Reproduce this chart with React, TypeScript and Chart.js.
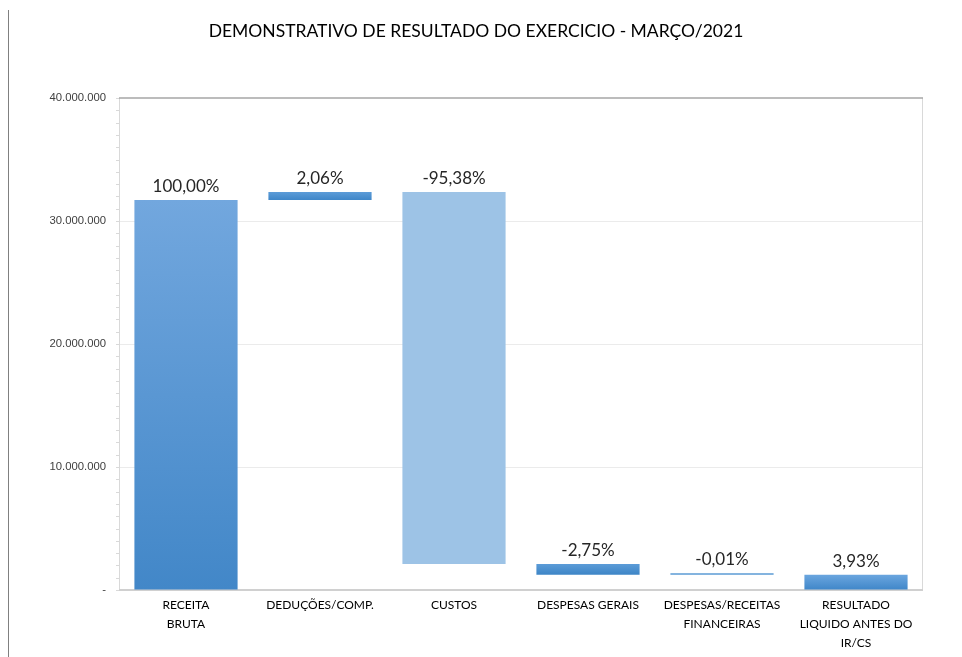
import React, { useEffect, useRef } from "react";
import { Chart, registerables } from "chart.js";

Chart.register(...registerables);

const TITLE = "DEMONSTRATIVO DE RESULTADO DO EXERCICIO - MARÇO/2021";
const categories: (string | string[])[] = [
  ["RECEITA", "BRUTA"],
  "DEDUÇÕES/COMP.",
  "CUSTOS",
  "DESPESAS GERAIS",
  ["DESPESAS/RECEITAS", "FINANCEIRAS"],
  ["RESULTADO", "LIQUIDO ANTES DO", "IR/CS"],
];
// floating bar ranges [start, end]
const barStart = [0, 31700000, 32353000, 2118000, 1246000, 0];
const barEnd = [31700000, 32353000, 2118000, 1246000, 1243000, 1243000];
const percentLabels = ["100,00%", "2,06%", "-95,38%", "-2,75%", "-0,01%", "3,93%"];
const topColors = ["#72a7de", "#5c9cd8", "#9dc3e6", "#5c9cd8", "#5b9bd5", "#6ba6df"];
const bottomColors = ["#4287c8", "#3f86c8", "#9dc3e6", "#3d85c6", "#5b9bd5", "#3f86c8"];
const yTicks = [0, 10000000, 20000000, 30000000, 40000000];

function fmt(v: number): string {
  if (v === 0) return "-";
  return Math.round(v)
    .toString()
    .replace(/\B(?=(\d{3})+(?!\d))/g, ".");
}

export default function App() {
  const ref = useRef<HTMLCanvasElement | null>(null);
  useEffect(() => {
    if (!ref.current) return;
    const decor = {
      id: "decor",
      beforeDatasetsDraw(chart: any) {
        const { ctx, chartArea: a, scales } = chart;
        const y = scales.y;
        ctx.save();
        // title
        ctx.font = "17.5px Lato";
        ctx.fillStyle = "#000000";
        ctx.textAlign = "center";
        ctx.textBaseline = "middle";
        ctx.fillText(TITLE, 476, 31);
        // minor ticks
        ctx.strokeStyle = "#d9d9d9";
        ctx.lineWidth = 1;
        for (let v = 0; v <= 40000000; v += 1000000) {
          const py = Math.round(y.getPixelForValue(v)) + 0.5;
          ctx.beginPath();
          ctx.moveTo(a.left - 3, py);
          ctx.lineTo(a.left, py);
          ctx.stroke();
        }
        // plot borders
        ctx.strokeStyle = "#d9d9d9";
        ctx.beginPath();
        ctx.moveTo(a.left + 0.5, a.top);
        ctx.lineTo(a.left + 0.5, a.bottom);
        ctx.moveTo(a.right - 0.5, a.top);
        ctx.lineTo(a.right - 0.5, a.bottom);
        ctx.stroke();
        ctx.strokeStyle = "#d0d0d0";
        ctx.lineWidth = 2;
        ctx.beginPath();
        ctx.moveTo(a.left, a.bottom);
        ctx.lineTo(a.right, a.bottom);
        ctx.stroke();
        ctx.strokeStyle = "#a6a6a6";
        ctx.lineWidth = 1.5;
        ctx.beginPath();
        ctx.moveTo(a.left, a.top);
        ctx.lineTo(a.right, a.top);
        ctx.stroke();
        // frame line on the left
        ctx.fillStyle = "#808080";
        ctx.fillRect(8, 10, 1, chart.height - 10);
        ctx.restore();
      },
      afterDatasetsDraw(chart: any) {
        const { ctx } = chart;
        const meta = chart.getDatasetMeta(0);
        ctx.save();
        ctx.font = "17px Lato";
        ctx.fillStyle = "#262626";
        ctx.textAlign = "center";
        ctx.textBaseline = "alphabetic";
        meta.data.forEach((el: any, i: number) => {
          const top = Math.min(el.y, el.base);
          ctx.fillText(percentLabels[i], el.x, top - 8);
        });
        ctx.restore();
      },
    };
    const chart = new Chart(ref.current, {
      type: "bar",
      data: {
        labels: categories,
        datasets: [
          {
            data: barStart.map((s, i) => [s, barEnd[i]]) as any,
            backgroundColor: (c: any) => {
              const i = c.dataIndex;
              if (i === undefined) return topColors[0];
              const chart = c.chart;
              const y = chart.scales.y;
              const raw = c.raw as number[];
              if (!y || !raw || !chart.chartArea) return topColors[i];
              const y0 = y.getPixelForValue(Math.max(raw[0], raw[1]));
              const y1 = y.getPixelForValue(Math.min(raw[0], raw[1]));
              if (!isFinite(y0) || !isFinite(y1) || y1 - y0 < 1) return topColors[i];
              const g = chart.ctx.createLinearGradient(0, y0, 0, y1);
              g.addColorStop(0, topColors[i]);
              g.addColorStop(1, bottomColors[i]);
              return g;
            },
            borderWidth: 0,
            barPercentage: 0.77,
            categoryPercentage: 1,
            minBarLength: 1.5,
          },
        ],
      },
      options: {
        responsive: false,
        animation: false,
        layout: { padding: { left: 0, right: 39, top: 98, bottom: 0 } },
        plugins: {
          legend: { display: false },
          tooltip: { enabled: false },
          title: { display: false },
        },
        scales: {
          x: {
            grid: { display: false, drawTicks: false },
            border: { display: false },
            ticks: {
              color: "#000000",
              font: { family: "Lato", size: 12, lineHeight: "19px" as any },
              padding: 5.5,
              maxRotation: 0,
              autoSkip: false,
            },
            afterFit: (s: any) => {
              s.height = 67;
            },
          },
          y: {
            min: 0,
            max: 40000000,
            afterBuildTicks: (s: any) => {
              s.ticks = yTicks.map((v) => ({ value: v }));
            },
            grid: {
              drawTicks: false,
              color: (c: any) =>
                c.tick && (c.tick.value === 0 || c.tick.value === 40000000)
                  ? "rgba(0,0,0,0)"
                  : "#ebebeb",
            },
            border: { display: false },
            ticks: {
              color: "#404040",
              font: { family: "Liberation Sans", size: 11.3 },
              padding: 13,
              callback: (v: any) => fmt(Number(v)),
            },
            afterFit: (s: any) => {
              s.width = 119;
            },
          },
        },
      },
      plugins: [decor],
    });
    return () => chart.destroy();
  }, []);
  return (
    <div style={{ position: "absolute", left: 0, top: 0, width: 962, height: 657, background: "#fff" }}>
      <canvas ref={ref} width={962} height={657} style={{ display: "block" }} />
    </div>
  );
}
